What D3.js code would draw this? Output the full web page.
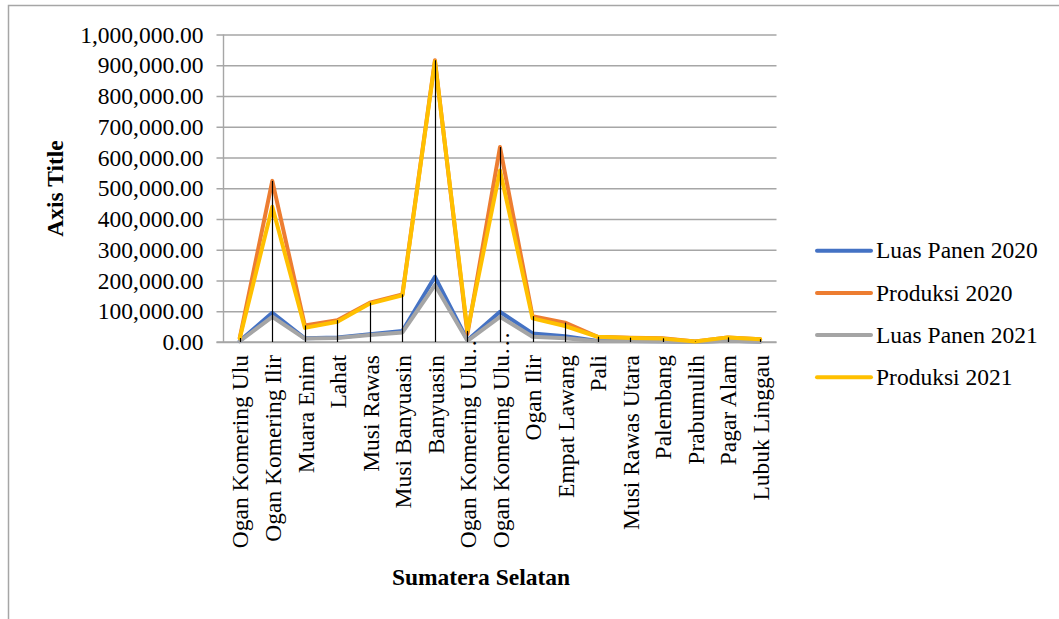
<!DOCTYPE html>
<html>
<head>
<meta charset="utf-8">
<script src="https://cdn.jsdelivr.net/npm/d3@7"></script>
<style>
  html, body { margin: 0; padding: 0; background: #fff; }
  svg { display: block; font-family: "Liberation Serif", "Times New Roman", serif; }
</style>
</head>
<body>
<svg id="chart" width="1059" height="619"></svg>
<script>
// Regencies / cities of Sumatera Selatan
const categories = [
  "Ogan Komering Ulu", "Ogan Komering Ilir", "Muara Enim", "Lahat", "Musi Rawas",
  "Musi Banyuasin", "Banyuasin", "Ogan Komering Ulu Selatan", "Ogan Komering Ulu Timur",
  "Ogan Ilir", "Empat Lawang", "Pali", "Musi Rawas Utara", "Palembang", "Prabumulih",
  "Pagar Alam", "Lubuk Linggau"
];
// Axis labels as shown (long names are cut with an ellipsis)
const tickLabels = [
  "Ogan Komering Ulu", "Ogan Komering Ilir", "Muara Enim", "Lahat", "Musi Rawas",
  "Musi Banyuasin", "Banyuasin", "Ogan Komering Ulu…", "Ogan Komering Ulu…",
  "Ogan Ilir", "Empat Lawang", "Pali", "Musi Rawas Utara", "Palembang", "Prabumulih",
  "Pagar Alam", "Lubuk Linggau"
];

const luasPanen2020 = [3000, 95000, 12000, 15000, 25000, 36000, 212000, 6000, 98000, 28000, 19000, 3000, 3000, 2500, 500, 4000, 1500];
const produksi2020  = [13000, 524000, 54000, 71000, 128000, 155000, 916000, 26000, 634000, 84000, 63000, 17000, 14000, 12000, 1500, 15000, 9000];
const luasPanen2021 = [2500, 82000, 11000, 13000, 23000, 31000, 185000, 4000, 82000, 17000, 12000, 2500, 2500, 2000, 400, 3500, 1200];
const produksi2021  = [12000, 440000, 46000, 66000, 125000, 152000, 912000, 36000, 558000, 77000, 52000, 17000, 13000, 11000, 1500, 15000, 9000];

const seriesNames  = ["Luas Panen 2020", "Produksi 2020", "Luas Panen 2021", "Produksi 2021"];
const seriesColors = ["#4472C4", "#ED7D31", "#A5A5A5", "#FFC000"];
const yTicks = [0, 100000, 200000, 300000, 400000, 500000, 600000, 700000, 800000, 900000, 1000000];

const series = [luasPanen2020, produksi2020, luasPanen2021, produksi2021].map((values, i) => ({
  name: seriesNames[i], color: seriesColors[i], values
}));

const svg = d3.select("#chart");
const plot = { left: 223.5, right: 776.5, top: 34.5, bottom: 342 };
const fontSize = 23.5;
const serif = "Liberation Serif, Times New Roman, serif";

// Chart frame
svg.append("rect")
  .attr("x", 8.5).attr("y", 5.5).attr("width", 1200).attr("height", 800)
  .attr("fill", "none").attr("stroke", "#a6a6a6").attr("stroke-width", 1.5);

const x = d3.scalePoint().domain(categories).range([plot.left, plot.right]).padding(0.5);
const y = d3.scaleLinear().domain([0, 1000000]).range([plot.bottom, plot.top]);

// Horizontal gridlines
const gy = svg.append("g").attr("transform", `translate(${plot.right},0)`);
gy.call(d3.axisLeft(y).tickValues(yTicks).tickFormat("").tickSize(plot.right - plot.left + 7));
gy.select(".domain").remove();
gy.selectAll(".tick line").attr("stroke", "#a6a6a6").attr("stroke-width", 1.4);

// Value axis labels
const gl = svg.append("g").attr("transform", `translate(${plot.left - 7},0)`)
  .attr("font-family", serif);
gl.call(d3.axisLeft(y).tickValues(yTicks).tickFormat(d3.format(",.2f")).tickSize(0).tickPadding(13));
gl.attr("font-family", serif);
gl.select(".domain").remove();
gl.selectAll(".tick text")
  .attr("font-family", serif)
  .attr("font-size", fontSize).attr("fill", "#000");

// Vertical value axis line
svg.append("line")
  .attr("x1", plot.left).attr("x2", plot.left)
  .attr("y1", plot.top).attr("y2", plot.bottom)
  .attr("stroke", "#a6a6a6").attr("stroke-width", 1.4);

// Category axis labels (rotated)
const gx = svg.append("g").attr("transform", `translate(0,${plot.bottom})`);
gx.call(d3.axisBottom(x).tickSize(0).tickFormat((d, i) => tickLabels[i]));
gx.attr("font-family", serif);
gx.select(".domain").attr("stroke", "#a6a6a6").attr("stroke-width", 1.4)
  .attr("d", `M${plot.left - 7},0H${plot.right}`);
gx.selectAll(".tick text")
  .attr("font-family", serif)
  .attr("font-size", fontSize).attr("fill", "#000")
  .attr("text-anchor", "end")
  .attr("transform", "rotate(-90)")
  .attr("x", -13).attr("y", 0).attr("dy", "0.35em")
  .attr("dx", (d, i) => tickLabels[i].endsWith("…") ? "1em" : 0);

// Series lines
const line = d3.line()
  .x((d, i) => x(categories[i]))
  .y(d => y(d));

svg.append("g").selectAll("path")
  .data(series)
  .join("path")
  .attr("d", s => line(s.values))
  .attr("fill", "none")
  .attr("stroke", s => s.color)
  .attr("stroke-width", 4)
  .attr("stroke-linejoin", "round")
  .attr("stroke-linecap", "round");

// Drop lines from the highest value down to the category axis
svg.append("g").selectAll("line")
  .data(categories)
  .join("line")
  .attr("x1", d => Math.round(x(d)) + 0.5)
  .attr("x2", d => Math.round(x(d)) + 0.5)
  .attr("y1", (d, i) => y(d3.max(series, s => s.values[i])))
  .attr("y2", plot.bottom)
  .attr("stroke", "#000")
  .attr("stroke-width", 1.2);

// Axis titles
svg.append("text")
  .attr("transform", `translate(63,188.5) rotate(-90)`)
  .attr("text-anchor", "middle")
  .attr("font-family", serif)
  .attr("font-size", fontSize).attr("font-weight", "bold")
  .text("Axis Title");

svg.append("text")
  .attr("x", 481).attr("y", 585)
  .attr("text-anchor", "middle")
  .attr("font-family", serif)
  .attr("font-size", fontSize).attr("font-weight", "bold")
  .text("Sumatera Selatan");

// Legend
const legend = svg.append("g").attr("transform", "translate(817,250.7)");
const item = legend.selectAll("g")
  .data(series)
  .join("g")
  .attr("transform", (d, i) => `translate(0,${i * 42.2})`);
item.append("line")
  .attr("x1", 0).attr("x2", 54)
  .attr("stroke", d => d.color).attr("stroke-width", 4).attr("stroke-linecap", "round");
item.append("text")
  .attr("x", 59).attr("dy", "0.33em")
  .attr("font-family", serif)
  .attr("font-size", fontSize)
  .text(d => d.name);
</script>
</body>
</html>
